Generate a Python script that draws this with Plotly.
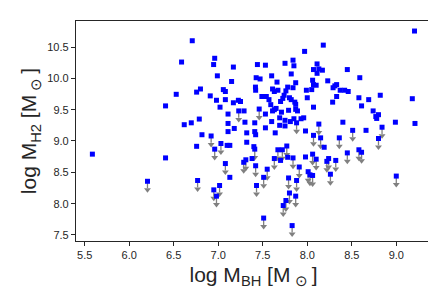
import plotly.graph_objects as go

# Detections: log M_BH, log M_H2
det_x = [6.708, 6.588, 6.80, 6.757, 6.528, 6.408, 6.787, 6.697, 6.618, 6.817, 6.757, 5.586, 6.408,
         6.96, 6.948, 7.17, 7.44, 7.53, 6.99, 7.426, 7.47, 7.15, 7.418, 7.42, 7.057, 7.08, 6.91, 6.98,
         7.08, 7.17, 7.226, 7.25, 7.49, 7.54, 7.02, 7.11, 7.29, 7.11, 7.30, 7.41, 7.18, 7.53, 7.11,
         7.32, 7.41, 7.42,
         7.10, 7.13, 7.32, 7.40, 7.38, 7.13,
         8.18, 7.97, 7.84, 7.75, 7.85, 8.11, 8.07, 8.13, 8.17, 8.11, 7.82, 7.60, 8.06, 8.23, 7.66,
         7.87, 8.07, 8.10, 7.78, 7.84, 7.61, 7.63, 7.67, 7.76, 7.99, 8.05, 7.74, 8.00, 7.57, 7.725,
         7.80, 7.82, 7.70, 7.86, 7.59, 7.87, 8.07, 7.65, 7.61, 7.63, 7.71, 7.79, 7.87, 7.89, 7.53,
         7.69, 7.60, 7.75, 7.81, 7.85, 7.93, 7.96, 7.69, 7.75, 7.64, 7.98,
         8.19, 7.70, 7.78, 7.98,
         8.45, 8.59, 8.33, 8.29, 8.31, 8.37, 8.42, 8.46, 8.82, 8.33, 8.58, 8.69, 8.285, 8.61, 8.74,
         8.80, 8.77, 8.78, 8.40, 8.66,
         9.205, 9.18, 8.99, 9.21]
det_y = [10.60, 10.26, 9.83, 9.78, 9.745, 9.56, 9.35, 9.29, 9.26, 9.10, 8.915, 8.79, 8.73,
         10.32, 10.22, 10.18, 10.22, 10.21, 10.04, 10.01, 9.99, 9.95, 9.86, 9.81, 9.82, 9.79, 9.72, 9.65,
         9.66, 9.61, 9.65, 9.63, 9.71, 9.71, 9.54, 9.43, 9.48, 9.28, 9.30, 9.29, 9.20, 9.21, 9.15,
         9.13, 9.15, 9.10,
         8.93, 8.93, 8.98, 8.91, 8.72, 8.42,
         10.53, 10.43, 10.29, 10.24, 10.20, 10.23, 10.14, 10.15, 10.13, 10.08, 10.07, 10.04, 9.97, 9.96, 9.94,
         9.93, 9.90, 9.89, 9.86, 9.85, 9.83, 9.79, 9.81, 9.80, 9.81, 9.82, 9.73, 9.69, 9.66, 9.68,
         9.69, 9.66, 9.63, 9.62, 9.58, 9.585, 9.54, 9.52, 9.48, 9.50, 9.46, 9.49, 9.505, 9.48, 9.43,
         9.37, 9.31, 9.33, 9.31, 9.355, 9.355, 9.37, 9.25, 9.24, 9.13, 9.16,
         8.90, 8.69, 8.74, 8.745,
         10.14, 10.01, 9.90, 9.85, 9.88, 9.81, 9.81, 9.79, 9.73, 9.71, 9.69, 9.66, 9.62, 9.56, 9.48,
         9.42, 9.39, 9.36, 9.30, 9.17,
         10.755, 9.675, 9.30, 9.28]

# Upper limits: log M_BH, log M_H2
ul_x = [6.205, 6.768, 7.23, 7.46,
        6.92, 6.96, 7.03, 7.41, 7.08, 7.286, 7.31, 7.42, 7.55, 7.51, 7.015, 6.95, 6.98, 7.43, 7.51,
        7.88, 8.13,
        8.07, 8.15, 7.77, 7.67, 7.72, 7.63, 7.84, 8.06, 8.10, 8.22, 7.91, 8.01, 8.03, 8.06, 7.79,
        7.88, 7.80, 7.87, 7.76, 7.73, 7.83,
        8.84, 8.51,
        8.36, 8.80, 8.45, 8.58, 8.61, 8.24, 8.32, 8.26,
        9.00]
ul_y = [8.357, 8.37, 9.48, 9.51,
        9.08, 8.87, 8.96, 8.87, 8.64, 8.66, 8.70, 8.605, 8.55, 8.42, 8.29, 8.22, 8.12, 8.29, 7.77,
        9.29, 9.27,
        9.09, 9.05, 8.92, 8.86, 8.86, 8.72, 8.73, 8.79, 8.71, 8.675, 8.585, 8.51, 8.46, 8.45, 8.41,
        8.37, 8.17, 8.12, 8.05, 7.97, 7.65,
        9.22, 9.17,
        9.05, 9.04, 8.81, 8.86, 8.82, 8.72, 8.69, 8.47,
        8.44]

x_ticks = [5.5, 6.0, 6.5, 7.0, 7.5, 8.0, 8.5, 9.0]
y_ticks = [7.5, 8.0, 8.5, 9.0, 9.5, 10.0, 10.5]

ARROW_LEN = 0.11
HEAD_OFF = 0.135

line_x, line_y = [], []
for xv, yv in zip(ul_x, ul_y):
    line_x += [xv, xv, None]
    line_y += [yv, yv - ARROW_LEN, None]

fig = go.Figure()
fig.add_trace(go.Scatter(x=line_x, y=line_y, mode="lines",
                         line=dict(color="#808080", width=1.3), hoverinfo="skip", showlegend=False))
fig.add_trace(go.Scatter(x=ul_x, y=[v - HEAD_OFF for v in ul_y], mode="markers",
                         marker=dict(symbol="triangle-down", size=6, color="#808080", line=dict(width=0)),
                         showlegend=False))
fig.add_trace(go.Scatter(x=ul_x, y=ul_y, mode="markers",
                         marker=dict(symbol="square", size=5, color="#0000ff", line=dict(width=0)),
                         showlegend=False))
fig.add_trace(go.Scatter(x=det_x, y=det_y, mode="markers",
                         marker=dict(symbol="square", size=5, color="#0000ff", line=dict(width=0)),
                         showlegend=False))

axis_common = dict(showgrid=False, zeroline=False, showline=True, mirror=True,
                   linecolor="#262626", linewidth=1.25, ticks="outside", ticklen=4,
                   tickwidth=1.1, tickcolor="#262626",
                   tickfont=dict(size=11, color="#262626"))

fig.update_layout(
    width=436, height=291,
    margin=dict(l=68, r=13, t=13, b=58),
    paper_bgcolor="white", plot_bgcolor="white",
    font=dict(family="Liberation Sans, Arial, sans-serif", color="#262626"),
    xaxis=dict(range=[5.402, 9.39], tickvals=x_ticks, ticktext=[f"{v:.1f}" for v in x_ticks],
               title=dict(text="log M<sub>BH</sub> [M<sub> \u2299 </sub>]", font=dict(size=21), standoff=6),
               **axis_common),
    yaxis=dict(range=[7.404, 10.915], tickvals=y_ticks, ticktext=[f"{v:.1f}" for v in y_ticks],
               title=dict(text="log M<sub>H2</sub> [M<sub> \u2299 </sub>]", font=dict(size=21), standoff=4),
               **axis_common),
)

fig.write_html("out.html")
